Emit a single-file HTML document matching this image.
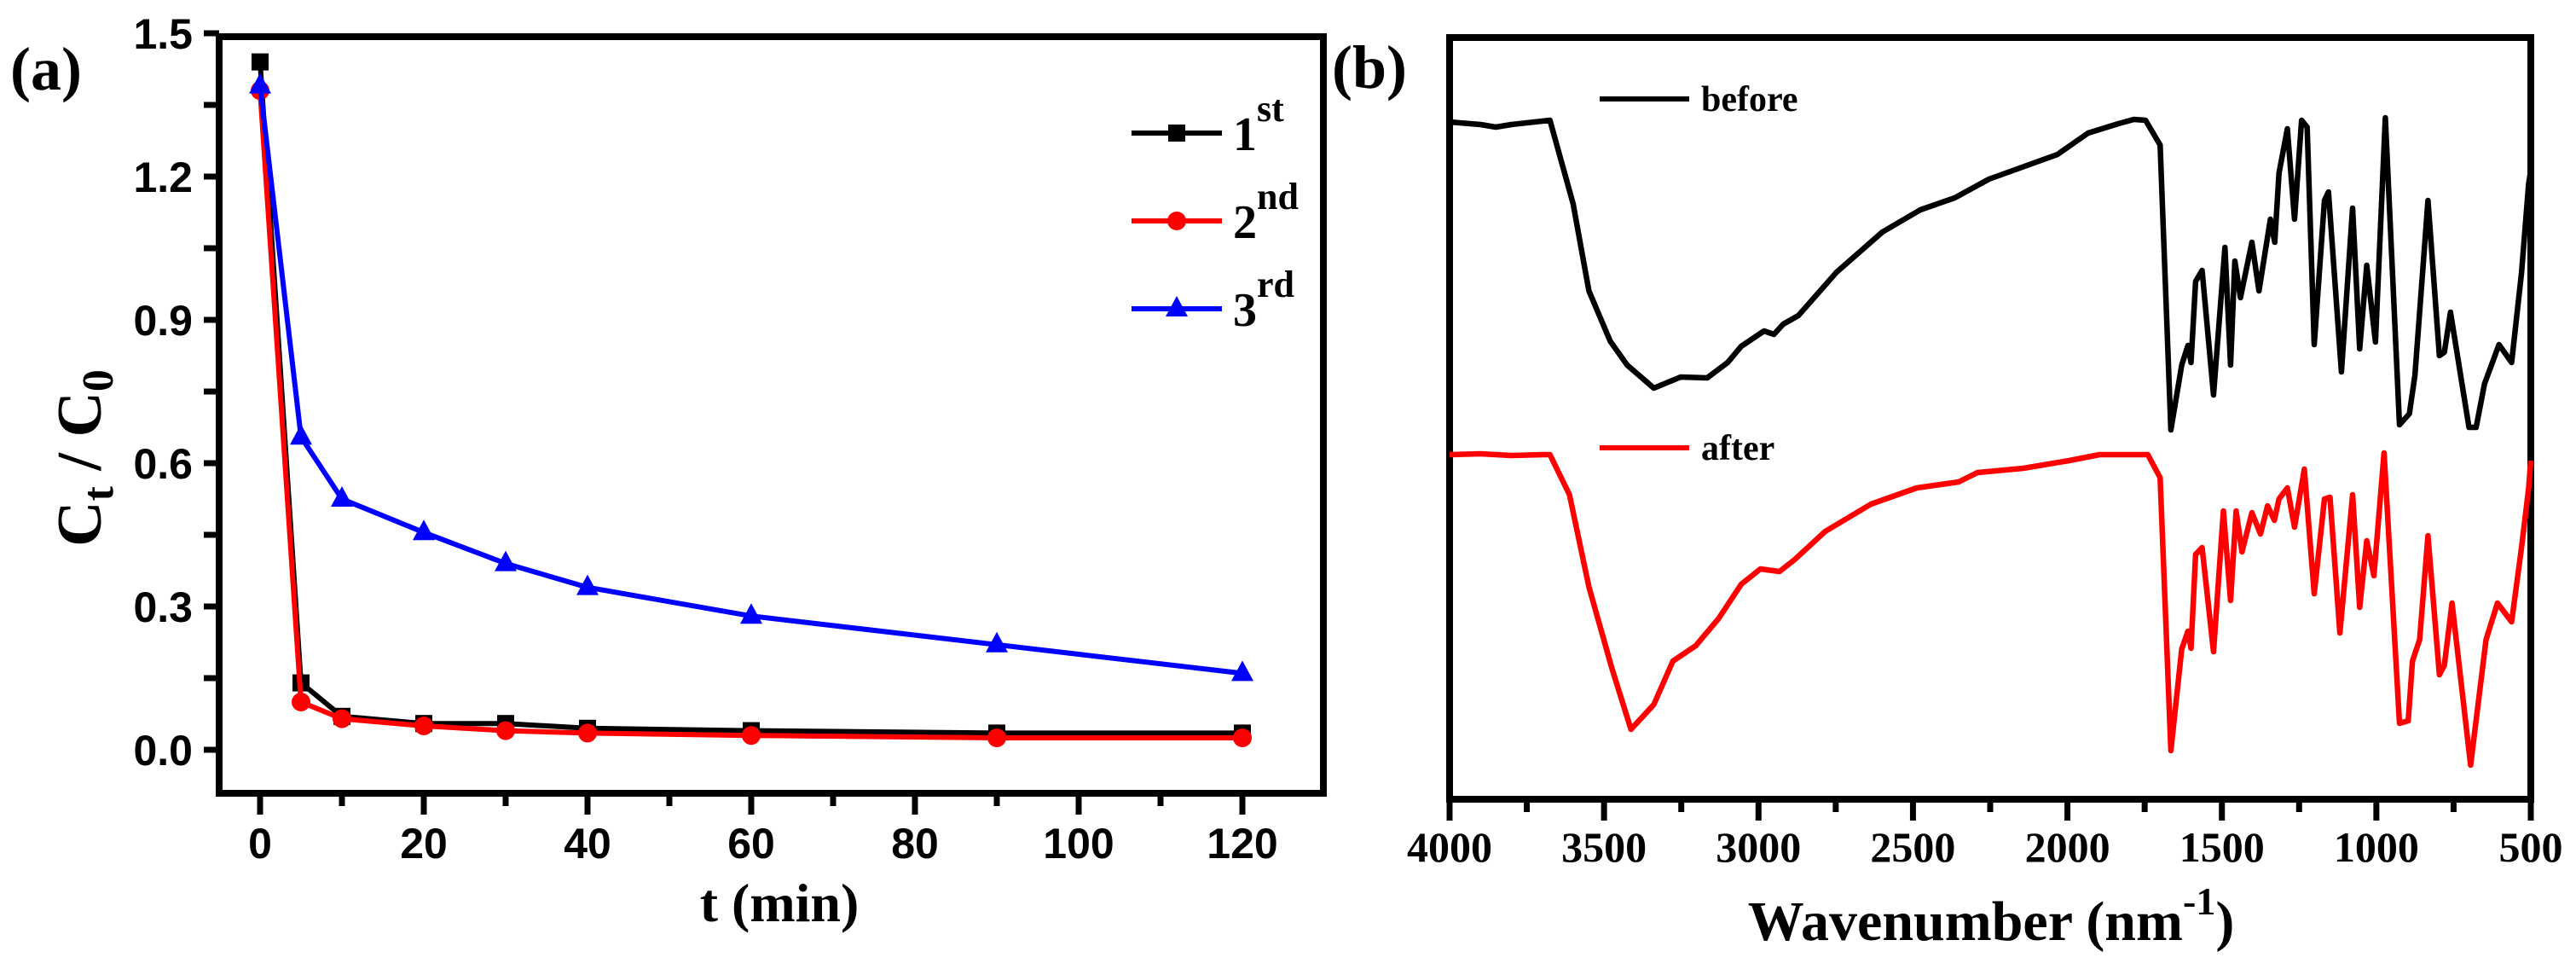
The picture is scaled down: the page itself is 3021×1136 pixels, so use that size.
<!DOCTYPE html>
<html><head><meta charset="utf-8">
<style>
html,body{margin:0;padding:0;background:#fff;}
svg{display:block;}
.tk{font-family:"Liberation Sans",sans-serif;font-weight:bold;font-size:50px;fill:#000;}
.sr{font-family:"Liberation Serif",serif;font-weight:bold;fill:#000;}
</style></head>
<body>
<svg id="fig" width="3021" height="1136" viewBox="0 0 3021 1136" xmlns="http://www.w3.org/2000/svg">
<g id="pa"></g>
<g id="pb"></g>
</svg>
<script>
// ---- Panel (a) data ----
const times = [0, 5, 10, 20, 30, 40, 60, 90, 120];
const run1 = [1.44, 0.14, 0.07, 0.055, 0.055, 0.045, 0.04, 0.035, 0.035];
const run2 = [1.38, 0.10, 0.065, 0.05, 0.04, 0.035, 0.03, 0.025, 0.025];
const run3 = [1.39, 0.655, 0.525, 0.455, 0.39, 0.34, 0.28, 0.22, 0.16];
const yTicksA = [0, 0.3, 0.6, 0.9, 1.2, 1.5];
const yTickLabelsA = ["0.0", "0.3", "0.6", "0.9", "1.2", "1.5"];
const xTicksA = [0, 20, 40, 60, 80, 100, 120];
// ---- Panel (b) data: [wavenumber, relative level] ----
const beforeWn = [4000,3900,3850,3800,3700,3675,3600,3549,3480,3425,3339,3252,3166,3100,3056,2982,2950,2920,2871,2747,2599,2476,2365,2254,2032,1933,1835,1785,1747,1700,1665,1630,1610,1600,1585,1564,1527,1490,1472,1458,1440,1403,1380,1343,1329,1315,1288,1265,1242,1224,1201,1168,1155,1150,1113,1077,1054,1031,1003,971,925,893,875,833,796,780,760,700,677,650,603,562,530,507,500];
const beforeY = [143,146,149,146,142,141,239,341,400,428,455,442,443,425,406,388,392,380,370,319,272,246,232,210,181,156,145,140,141,170,504,428,405,425,330,317,463,290,428,306,349,284,341,257,284,203,151,257,141,149,404,235,225,250,436,244,409,311,401,138,498,485,440,235,417,413,366,501,501,450,404,425,320,215,200];
const afterWn = [4000,3900,3800,3700,3675,3612,3549,3475,3413,3339,3277,3203,3129,3056,2994,2932,2883,2784,2636,2488,2352,2291,2143,1995,1896,1773,1740,1700,1665,1630,1610,1600,1585,1564,1527,1495,1472,1454,1435,1403,1375,1352,1330,1315,1288,1265,1233,1201,1168,1150,1118,1077,1054,1031,1008,975,925,897,883,860,833,796,780,755,695,645,608,562,530,507,500];
const afterY = [533,532,534,533,533,580,688,783,855,826,775,757,725,685,667,670,656,623,591,572,565,554,549,540,533,533,533,560,880,761,740,760,650,642,764,599,704,599,647,601,626,593,610,585,572,618,550,696,585,583,742,580,712,634,675,531,848,845,775,750,628,791,780,707,897,750,707,729,642,572,540];
const xTicksB = [4000, 3500, 3000, 2500, 2000, 1500, 1000, 500];

const NS = "http://www.w3.org/2000/svg";
function mk(parent, tag, attrs, text) {
  const e = document.createElementNS(NS, tag);
  for (const k in attrs) e.setAttribute(k, attrs[k]);
  if (text !== undefined) e.textContent = text;
  parent.appendChild(e);
  return e;
}
const ax = t => 305 + t * 9.6;
const ay = v => 879 - v * 560;
const pa = document.getElementById('pa');

let el = mk(pa, 'text', {x: 12, y: 105, class: 'sr', 'font-size': 72}, '(a)');



el = mk(pa, 'rect', {x: 257, y: 43, width: 1295, height: 887, fill: 'none', stroke: '#000', 'stroke-width': 8});



for (let v = 0; v <= 1.5001; v += 0.15) {
  el = mk(pa, 'line', {x1: 239, x2: 257, y1: ay(v), y2: ay(v), stroke: '#000', 'stroke-width': 7});
  
  
}
yTicksA.forEach((v, i) => {
  el = mk(pa, 'text', {x: 226, y: ay(v) + 18, 'text-anchor': 'end', class: 'tk'}, yTickLabelsA[i]);
  
  
});
for (let t = 0; t <= 120; t += 10) {
  const major = t % 20 === 0;
  el = mk(pa, 'line', {x1: ax(t), x2: ax(t), y1: 930, y2: major ? 955 : 945, stroke: '#000', 'stroke-width': 7});
  
  
}
xTicksA.forEach(t => {
  el = mk(pa, 'text', {x: ax(t), y: 1006, 'text-anchor': 'middle', class: 'tk'}, String(t));
  
  
});
el = mk(pa, 'text', {x: 914, y: 1080, 'text-anchor': 'middle', class: 'sr', 'font-size': 64}, 't (min)');


el = mk(pa, 'text', {x: 0, y: 0, 'text-anchor': 'middle', class: 'sr', 'font-size': 74, transform: 'translate(118,537) rotate(-90)'});


el.innerHTML = 'C<tspan font-size="52" dy="14">t</tspan><tspan dy="-14"> / C</tspan><tspan font-size="52" dy="14">0</tspan>';

function marker(g, type, x, y, color) {
  let m;
  if (type === 'sq') m = mk(g, 'rect', {x: x - 10, y: y - 10, width: 20, height: 20, fill: color});
  else if (type === 'ci') m = mk(g, 'circle', {cx: x, cy: y, r: 11, fill: color});
  else m = mk(g, 'polygon', {points: `${x},${y - 15} ${x - 13},${y + 9} ${x + 13},${y + 9}`, fill: color});
  return m;
}
const series = [
  {vals: run1, color: '#000', m: 'sq', name: 'series-1st'},
  {vals: run2, color: '#f00', m: 'ci', name: 'series-2nd'},
  {vals: run3, color: '#00f', m: 'tr', name: 'series-3rd'}
];
series.forEach(s => {
  const g = mk(pa, 'g', {});
  
  
  const pts = times.map((t, i) => ax(t) + ',' + ay(s.vals[i])).join(' ');
  const ln = mk(g, 'polyline', {points: pts, fill: 'none', stroke: s.color, 'stroke-width': 6, 'stroke-linejoin': 'round'});
  
  
  times.forEach((t, i) => {
    const mm = marker(g, s.m, ax(t), ay(s.vals[i]), s.color);
    
    
  });
});
const legA = mk(pa, 'g', {});


const legItems = [['1', 'st', '#000', 'sq', 156], ['2', 'nd', '#f00', 'ci', 259], ['3', 'rd', '#00f', 'tr', 362]];
legItems.forEach(it => {
  const g = mk(legA, 'g', {});
  
  
  mk(g, 'line', {x1: 1327, x2: 1433, y1: it[4], y2: it[4], stroke: it[2], 'stroke-width': 6});
  marker(g, it[3], 1380, it[4], it[2]);
  const tx = mk(g, 'text', {x: 1446, y: it[4] + 20, class: 'sr', 'font-size': 56});
  tx.innerHTML = it[0] + '<tspan font-size="44" dy="-34">' + it[1] + '</tspan>';
});

// ---- Panel b ----
const bx = w => 1700 + (4000 - w) / 3500 * 1268;
const by = v => v;
const pb = document.getElementById('pb');
el = mk(pb, 'text', {x: 1562, y: 103, class: 'sr', 'font-size': 72}, '(b)');


el = mk(pb, 'rect', {x: 1700, y: 44, width: 1268, height: 893, fill: 'none', stroke: '#000', 'stroke-width': 8});


for (let w = 4000; w >= 500; w -= 250) {
  const major = w % 500 === 0;
  el = mk(pb, 'line', {x1: bx(w), x2: bx(w), y1: 937, y2: major ? 962 : 952, stroke: '#000', 'stroke-width': 7});
  
  
}
xTicksB.forEach(w => {
  el = mk(pb, 'text', {x: bx(w), y: 1010, 'text-anchor': 'middle', class: 'sr', 'font-size': 50}, String(w));
  
  
});
el = mk(pb, 'text', {x: 2335, y: 1102, 'text-anchor': 'middle', class: 'sr', 'font-size': 66});


el.innerHTML = 'Wavenumber (nm<tspan font-size="46" dy="-30">-1</tspan><tspan dy="30">)</tspan>';

[[beforeWn, beforeY, '#000', 'spectrum-before'], [afterWn, afterY, '#f00', 'spectrum-after']].forEach(s => {
  const pts = s[0].map((w, i) => bx(w).toFixed(1) + ',' + by(s[1][i])).join(' ');
  const ln = mk(pb, 'polyline', {points: pts, fill: 'none', stroke: s[2], 'stroke-width': 6.5, 'stroke-linejoin': 'round'});
  
  
});
const legB = mk(pb, 'g', {});


[['before', '#000', 116], ['after', '#f00', 525]].forEach(it => {
  const g = mk(legB, 'g', {});
  
  
  mk(g, 'line', {x1: 1876, x2: 1981, y1: it[2], y2: it[2], stroke: it[1], 'stroke-width': 6});
  mk(g, 'text', {x: 1995, y: it[2] + 14, class: 'sr', 'font-size': 42}, it[0]);
});
</script>
</body></html>
